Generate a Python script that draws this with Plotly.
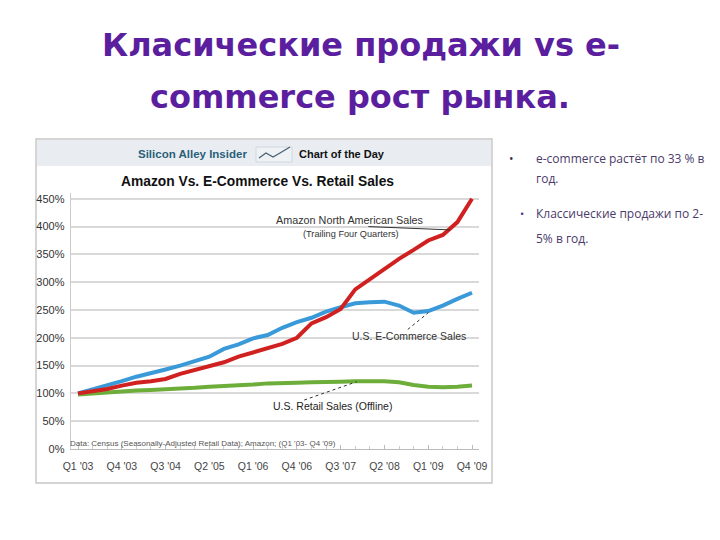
import plotly.graph_objects as go

quarters = list(range(28))
tick_idx = [0, 3, 6, 9, 12, 15, 18, 21, 24, 27]
tick_labels = ["Q1 '03", "Q4 '03", "Q3 '04", "Q2 '05", "Q1 '06",
               "Q4 '06", "Q3 '07", "Q2 '08", "Q1 '09", "Q4 '09"]

amazon = [100, 104, 108, 114, 119, 122, 126, 135, 142, 150, 156, 166, 174, 182,
          189, 200, 226, 237, 252, 287, 305, 325, 342, 358, 375, 385, 408, 450]
ecommerce = [100, 107, 114, 122, 130, 136, 143, 150, 158, 166, 180, 188, 199, 205,
             218, 228, 236, 247, 255, 262, 264, 265, 258, 245, 248, 258, 270, 281]
retail = [98, 100, 102, 104, 105, 106, 107, 109, 110, 112, 113, 114, 116, 118,
          118, 119, 120, 120, 121, 122, 122, 122, 120, 115, 112, 111, 112, 114]

y_ticks = [0, 50, 100, 150, 200, 250, 300, 350, 400, 450]
y_labels = [f"{v}%" for v in y_ticks]

W, H = 720, 540
OFF = 8  # page body margin
def px(x):
    return (x - OFF) / W
def py(y):
    return 1 - (y - OFF) / H

fig = go.Figure()
fig.add_trace(go.Scatter(x=quarters, y=retail, mode="lines",
                         line=dict(color="#6DAE3A", width=4), hoverinfo="skip"))
fig.add_trace(go.Scatter(x=quarters, y=ecommerce, mode="lines",
                         line=dict(color="#3A9AD9", width=4), hoverinfo="skip"))
fig.add_trace(go.Scatter(x=quarters, y=amazon, mode="lines",
                         line=dict(color="#D02020", width=4), hoverinfo="skip"))

fig.update_layout(
    width=W, height=H, showlegend=False,
    paper_bgcolor="white", plot_bgcolor="white",
    margin=dict(l=0, r=0, t=0, b=0, autoexpand=False),
    font=dict(family="Open Sans, sans-serif", color="#333333"),
    xaxis=dict(domain=[px(70.7), px(479.3)], range=[-0.5, 27.5], automargin=False,
               tickvals=tick_idx, ticktext=tick_labels, showgrid=False,
               zeroline=False, showline=True, linecolor="#bbbbbb", linewidth=1,
               ticks="inside", ticklen=4, tickcolor="#bbbbbb",
               minor=dict(ticks="inside", dtick=1, tick0=0, ticklen=3, tickcolor="#cccccc"),
               tickfont=dict(size=10.5, color="#444444", family="Liberation Sans, sans-serif"),
               ticklabelstandoff=7),
    yaxis=dict(domain=[py(449), py(193.2)], range=[0, 460], automargin=False,
               tickvals=y_ticks, ticktext=y_labels, showgrid=True,
               gridcolor="#d9d9d9", gridwidth=1.5, zeroline=False,
               showline=True, linecolor="#cccccc", linewidth=1,
               tickfont=dict(size=11, color="#333333", family="Liberation Sans, sans-serif"),
               ticks="", ticklabelstandoff=3),
)

shapes = [
    dict(type="rect", xref="paper", yref="paper", x0=px(36), x1=px(492), y0=py(483), y1=py(139),
         line=dict(color="#c8c8c8", width=1.5), fillcolor="rgba(0,0,0,0)", layer="below"),
    dict(type="rect", xref="paper", yref="paper", x0=px(37), x1=px(491), y0=py(166), y1=py(140),
         line=dict(width=0), fillcolor="#E9EDF1", layer="below"),
    # header icon
    dict(type="rect", xref="paper", yref="paper", x0=px(256), x1=px(292), y0=py(162), y1=py(147),
         line=dict(color="#cfd8df", width=1), fillcolor="#eef2f5"),
    dict(type="path", xref="paper", yref="paper",
         path=f"M {px(259)},{py(158)} L {px(266)},{py(153)} L {px(273)},{py(157)} L {px(280)},{py(153)} L {px(290)},{py(147)}",
         line=dict(color="#4d6070", width=1.3)),
    # leader lines
    dict(type="line", xref="x", yref="y", x0=19.9, y0=400, x1=25.5, y1=394,
         line=dict(color="#333333", width=1)),
    dict(type="line", xref="x", yref="y", x0=22.6, y0=215, x1=24.0, y1=245,
         line=dict(color="#333333", width=1, dash="dot")),
    dict(type="line", xref="x", yref="y", x0=15.5, y0=88, x1=19.1, y1=121,
         line=dict(color="#333333", width=1, dash="dot")),
]
fig.update_layout(shapes=shapes)

title_font = dict(size=32, color="#5A1E9E", family="DejaVu Sans, sans-serif")
bullet_font = dict(size=12, color="#4a3a6a", family="Open Sans, sans-serif")
lab = "Liberation Sans, sans-serif"
anns = [
    dict(text="<b>Класические продажи vs e-</b>", x=px(361), y=py(45), font=title_font, xanchor="center", yanchor="middle"),
    dict(text="<b>commerce рост рынка.</b>", x=px(360), y=py(97), font=title_font, xanchor="center", yanchor="middle"),
    dict(text="<b>Silicon Alley Insider</b>", x=px(192), y=py(154), font=dict(size=11.5, color="#2A5F7A", family=lab), xanchor="center", yanchor="middle"),
    dict(text="<b>Chart of the Day</b>", x=px(342), y=py(154), font=dict(size=11, color="#111111", family=lab), xanchor="center", yanchor="middle"),
    dict(text="<b>Amazon Vs. E-Commerce Vs. Retail Sales</b>", x=px(257), y=py(182), font=dict(size=13.8, color="#111111", family=lab), xanchor="center", yanchor="middle"),
    dict(text="Amazon North American Sales", x=px(350), y=py(220), font=dict(size=10.8, color="#333333", family=lab), xanchor="center", yanchor="middle"),
    dict(text="(Trailing Four Quarters)", x=px(351), y=py(234), font=dict(size=9.2, color="#333333", family=lab), xanchor="center", yanchor="middle"),
    dict(text="U.S. E-Commerce Sales", x=px(409), y=py(336), font=dict(size=10.5, color="#333333", family=lab), xanchor="center", yanchor="middle"),
    dict(text="U.S. Retail Sales (Offline)", x=px(332), y=py(406), font=dict(size=10.5, color="#222222", family=lab), xanchor="center", yanchor="middle"),
    dict(text="Data: Census (Seasonally-Adjusted Retail Data); Amazon; (Q1 '03- Q4 '09)", x=px(68), y=py(443), font=dict(size=8, color="#555555", family=lab), xanchor="left", yanchor="middle"),
    dict(text="•", x=px(512), y=py(158), font=dict(size=12, color="#3a2a5a", family="Open Sans, sans-serif"), xanchor="center", yanchor="middle"),
    dict(text="e-commerce растёт по 33 % в", x=px(534), y=py(158), font=bullet_font, xanchor="left", yanchor="middle"),
    dict(text="год.", x=px(534), y=py(178), font=bullet_font, xanchor="left", yanchor="middle"),
    dict(text="•", x=px(522), y=py(213), font=dict(size=11, color="#4a3a8a", family="Open Sans, sans-serif"), xanchor="center", yanchor="middle"),
    dict(text="Классические продажи по 2-", x=px(534), y=py(213), font=bullet_font, xanchor="left", yanchor="middle"),
    dict(text="5% в год.", x=px(534), y=py(238), font=bullet_font, xanchor="left", yanchor="middle"),
]
for a in anns:
    a.update(xref="paper", yref="paper", showarrow=False)
fig.update_layout(annotations=anns)

fig.write_html("out.html")
